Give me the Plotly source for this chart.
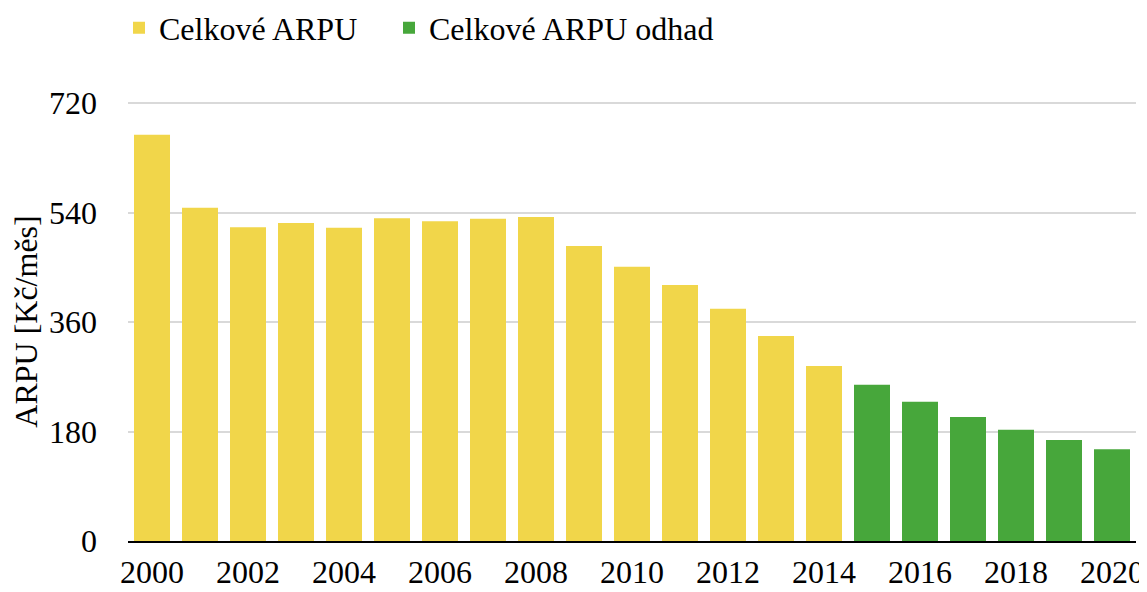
import plotly.graph_objects as go

years_actual = [2000, 2001, 2002, 2003, 2004, 2005, 2006, 2007, 2008, 2009,
                2010, 2011, 2012, 2013, 2014]
arpu_actual = [668, 548, 516, 523, 515, 531, 526, 530, 533, 485,
               451, 421, 382, 337, 288]
years_est = [2015, 2016, 2017, 2018, 2019, 2020]
arpu_est = [257, 229, 204, 183, 166, 151]
y_ticks = [0, 180, 360, 540, 720]
x_ticks = list(range(2000, 2021, 2))

FONT = "Liberation Serif"
W, H = 1139, 584  # page body adds an 8px offset

fig = go.Figure()
fig.add_trace(go.Bar(x=years_actual, y=arpu_actual, name="Celkové ARPU",
                     marker=dict(color="#F1D64A", line=dict(width=0)),
                     legend="legend"))
fig.add_trace(go.Bar(x=years_est, y=arpu_est, name="Celkové ARPU odhad",
                     marker=dict(color="#47A73B", line=dict(width=0)),
                     legend="legend2"))

leg_common = dict(orientation="h", xref="container", yref="container",
                  xanchor="left", yanchor="middle", y=1 - 20 / H,
                  font=dict(family=FONT, size=32, color="black"),
                  bgcolor="rgba(0,0,0,0)")

fig.update_layout(
    width=W, height=H,
    margin=dict(l=120, r=11, t=94, b=51, autoexpand=False),
    paper_bgcolor="white", plot_bgcolor="white",
    font=dict(family=FONT, size=32, color="black"),
    bargap=0.25,
    showlegend=True,
    legend=dict(x=111 / W, **leg_common),
    legend2=dict(x=381 / W, **leg_common),
    xaxis=dict(range=[1999.5, 2020.5], tickvals=x_ticks, showgrid=False,
               showline=True, linecolor="black", linewidth=2, ticks="",
               ticklabelstandoff=2, automargin=False),
    yaxis=dict(range=[0, 722], tickvals=y_ticks, showgrid=True,
               gridcolor="#D9D9D9", gridwidth=1.5, zeroline=False,
               showline=False, ticks="", ticklabelstandoff=30,
               automargin=False,
               title=dict(text="ARPU [Kč/měs]", standoff=1,
                          font=dict(family=FONT, size=32))),
)

fig.write_html("out.html")
